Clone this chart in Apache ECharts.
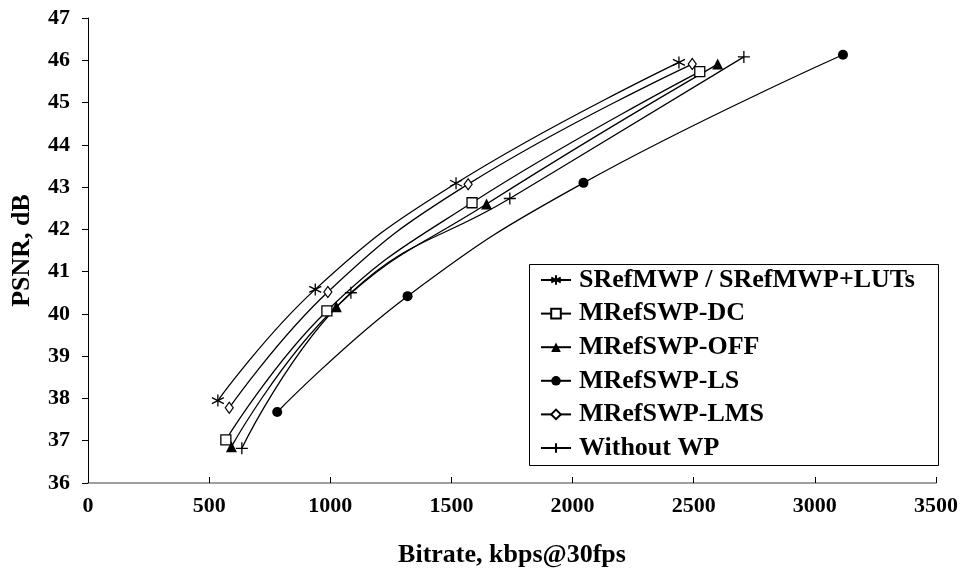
<!DOCTYPE html>
<html>
<head>
<meta charset="utf-8">
<script src="https://cdn.jsdelivr.net/npm/echarts@6/dist/echarts.min.js"></script>
<style>
html,body{margin:0;padding:0;background:#fff;}
#c{width:974px;height:578px;}
</style>
</head>
<body>
<div id="c"></div>
<script>
const seriesNames = ['SRefMWP / SRefMWP+LUTs','MRefSWP-DC','MRefSWP-OFF','MRefSWP-LS','MRefSWP-LMS','Without WP'];
const srefmwpX = [536, 938, 1519, 2439];
const srefmwpY = [37.95, 40.58, 43.09, 45.95];
const dcX = [569, 986, 1585, 2525];
const dcY = [37.02, 40.07, 42.63, 45.73];
const offX = [592, 1025, 1645, 2599];
const offY = [36.86, 40.17, 42.60, 45.91];
const lsX = [781, 1319, 2045, 3116];
const lsY = [37.68, 40.42, 43.10, 46.13];
const lmsX = [583, 990, 1569, 2494];
const lmsY = [37.78, 40.52, 43.07, 45.91];
const nowpX = [635, 1085, 1741, 2707];
const nowpY = [36.82, 40.50, 42.73, 46.08];
const xTicks = [0, 500, 1000, 1500, 2000, 2500, 3000, 3500];
const yTicks = [36, 37, 38, 39, 40, 41, 42, 43, 44, 45, 46, 47];

const FONT = 'Liberation Serif';
const asterisk = 'path://M5,0L5,10M0.7,2.5L9.3,7.5M0.7,7.5L9.3,2.5';
const plus = 'path://M5,0L5,10M0,5L10,5';

function pts(xs, ys){ return xs.map((x,i)=>[x, ys[i]]); }

const styles = [
  {symbol: asterisk, size: 12, fill: 'none', bw: 1.3},
  {symbol: 'rect', size: 10, fill: '#fff', bw: 1.3},
  {symbol: 'triangle', size: 11, fill: '#000', bw: 0},
  {symbol: 'circle', size: 10, fill: '#000', bw: 0},
  {symbol: 'diamond', size: [8,11], fill: '#fff', bw: 1.2},
  {symbol: plus, size: 12, fill: 'none', bw: 1.3}
];
const datas = [pts(srefmwpX,srefmwpY), pts(dcX,dcY), pts(offX,offY), pts(lsX,lsY), pts(lmsX,lmsY), pts(nowpX,nowpY)];

const series = seriesNames.map((n,i)=>({
  name: n,
  type: 'line',
  data: datas[i],
  smooth: 0.45,
  symbol: styles[i].symbol,
  symbolSize: styles[i].size,
  showAllSymbol: true,
  lineStyle: {color: '#000', width: 1.3},
  itemStyle: {color: styles[i].fill, borderColor: '#000', borderWidth: styles[i].bw},
  emphasis: {disabled: true},
  z: 3
}));

const chart = echarts.init(document.getElementById('c'), null, {renderer: 'canvas'});
chart.setOption({
  animation: false,
  backgroundColor: '#fff',
  grid: {left: 88, right: 38, top: 18, bottom: 95, containLabel: false},
  xAxis: {
    type: 'value', min: xTicks[0], max: xTicks[xTicks.length-1], interval: 500,
    name: 'Bitrate, kbps@30fps', nameLocation: 'middle', nameGap: 59,
    nameTextStyle: {fontFamily: FONT, fontWeight: 'bold', fontSize: 26, color: '#000'},
    axisLine: {lineStyle: {color: '#808080', width: 1.5}},
    axisTick: {inside: true, length: 6, lineStyle: {color: '#000', width: 1}},
    axisLabel: {fontFamily: FONT, fontWeight: 'bold', fontSize: 22, color: '#000', margin: 12,
      formatter: v => String(v)},
    splitLine: {show: false}
  },
  yAxis: {
    type: 'value', min: yTicks[0], max: yTicks[yTicks.length-1], interval: 1,
    name: 'PSNR, dB', nameLocation: 'middle', nameGap: 53, nameRotate: 90,
    nameTextStyle: {fontFamily: FONT, fontWeight: 'bold', fontSize: 26, color: '#000'},
    axisLine: {show: true, lineStyle: {color: '#000', width: 1}},
    axisTick: {show: true, inside: false, length: 6, lineStyle: {color: '#000', width: 1}},
    axisLabel: {fontFamily: FONT, fontWeight: 'bold', fontSize: 22, color: '#000', margin: 18},
    splitLine: {show: false}
  },
  legend: {
    orient: 'vertical', left: 540, top: 267,
    itemGap: 7.6, itemWidth: 30, itemHeight: 12,
    padding: 0,
    textStyle: {fontFamily: FONT, fontWeight: 'bold', fontSize: 26, color: '#000', padding: [0,0,0,3]},
    data: seriesNames,
    selectedMode: false
  },
  graphic: [{
    type: 'rect', left: 527, top: 262, z: 100,
    shape: {width: 409, height: 201},
    style: {fill: 'none', stroke: '#000', lineWidth: 1}
  }],
  series: series
});
</script>
</body>
</html>
